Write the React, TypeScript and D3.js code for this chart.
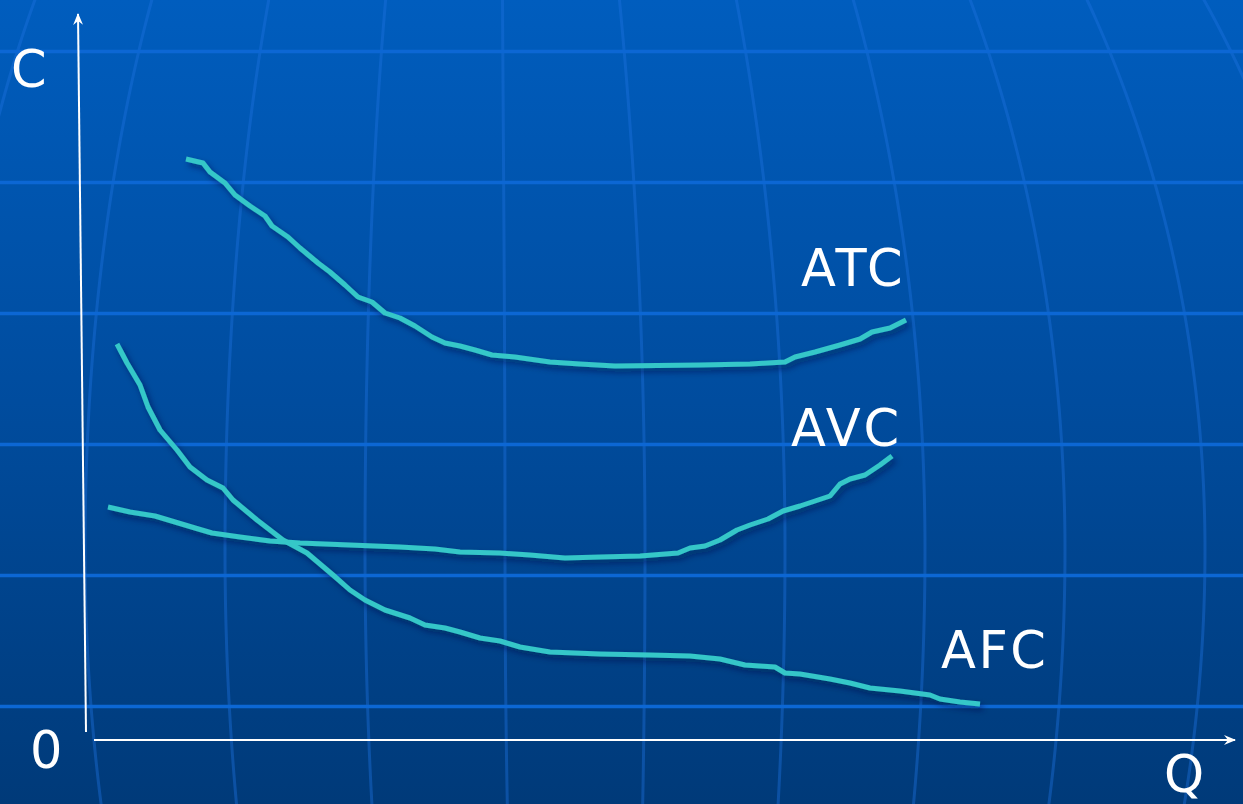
import React from "react";
import * as d3 from "d3";

const W = 1243;
const H = 804;

// Q (quantity) and C (cost) values
const atcQ = [9.6, 11.3, 12.0, 13.5, 14.5, 16.0, 17.5, 18.2, 19.8, 21.0, 22.8, 24.0, 25.5, 26.8, 28.2, 29.5, 31.0, 32.5, 34.2, 35.5, 37.0, 38.5, 40.2, 42.5, 46.0, 49.0, 52.5, 61.0, 66.0, 69.5, 70.5, 72.5, 75.0, 77.0, 78.2, 80.0, 81.6];
const atcC = [58.1, 57.7, 56.8, 55.7, 54.5, 53.4, 52.4, 51.4, 50.3, 49.2, 47.7, 46.8, 45.5, 44.3, 43.8, 42.7, 42.2, 41.4, 40.3, 39.7, 39.4, 39.0, 38.5, 38.3, 37.8, 37.6, 37.4, 37.5, 37.6, 37.8, 38.3, 38.8, 39.5, 40.1, 40.8, 41.2, 42.0];

const avcQ = [1.8, 4.0, 6.5, 8.5, 10.5, 12.2, 15.0, 18.0, 21.0, 26.0, 31.0, 34.5, 37.0, 41.0, 44.0, 47.5, 51.0, 55.0, 58.8, 60.0, 61.5, 63.0, 64.7, 66.0, 67.8, 69.3, 71.0, 72.5, 74.0, 75.0, 76.0, 77.5, 79.0, 80.2];
const avcC = [23.3, 22.8, 22.4, 21.8, 21.2, 20.7, 20.3, 19.9, 19.7, 19.5, 19.3, 19.1, 18.8, 18.7, 18.5, 18.2, 18.3, 18.4, 18.7, 19.2, 19.4, 20.0, 21.0, 21.5, 22.1, 22.9, 23.4, 23.9, 24.4, 25.6, 26.1, 26.5, 27.5, 28.4];

const afcQ = [2.7, 3.7, 5.0, 5.8, 7.0, 8.7, 10.0, 11.7, 13.3, 14.3, 16.7, 19.3, 21.7, 24.3, 26.0, 27.5, 29.5, 32.0, 33.5, 35.5, 37.0, 39.0, 41.0, 43.0, 46.0, 51.0, 56.0, 60.0, 63.0, 65.5, 68.5, 69.5, 71.0, 74.0, 76.0, 78.0, 81.0, 84.0, 85.0, 87.0, 89.0];
const afcC = [39.6, 37.7, 35.5, 33.3, 31.0, 29.0, 27.3, 26.0, 25.2, 24.0, 22.0, 20.0, 18.7, 16.5, 15.0, 14.0, 13.0, 12.2, 11.5, 11.2, 10.8, 10.2, 9.9, 9.3, 8.8, 8.6, 8.5, 8.4, 8.1, 7.5, 7.3, 6.7, 6.6, 6.1, 5.7, 5.2, 4.9, 4.5, 4.1, 3.8, 3.6];

const curveNames = ["ATC", "AVC", "AFC"];

const x = d3.scaleLinear().domain([0, 100]).range([90, 1090]);
const y = d3.scaleLinear().domain([0, 70]).range([740, 40]);

const line = d3
  .line<[number, number]>()
  .x((d) => x(d[0]))
  .y((d) => y(d[1]))
  .curve(d3.curveLinear);

const zip = (a: number[], b: number[]) => a.map((v, i) => [v, b[i]] as [number, number]);

// decorative globe background
const hLines = d3.range(6).map((i) => 51.5 + i * 131);
const meridianOffsets = [-630, -490, -350, -210, -70, 70, 210, 350, 490, 630, 770];
const wAt = (yy: number) => Math.sqrt(Math.max(0, 1 - ((yy - 550) / 1000) ** 2));
const cxAt = (yy: number) => (yy < 550 ? 575 - 14 * ((550 - yy) / 550) ** 2 : 575);
const meridianPath = (off: number) => {
  const pts = d3.range(-10, H + 11, 10).map((yy) => [cxAt(yy) + off * wAt(yy), yy] as [number, number]);
  return d3.line().curve(d3.curveBasis)(pts) || "";
};

export default function App() {
  const font = "'DejaVu Sans', Verdana, sans-serif";
  const series = [zip(atcQ, atcC), zip(avcQ, avcC), zip(afcQ, afcC)];
  return (
    <div style={{ position: "fixed", left: 0, top: 0, width: W, height: H }}>
      <svg width={W} height={H} viewBox={`0 0 ${W} ${H}`} style={{ display: "block" }}>
        <defs>
          <linearGradient id="bg" x1="0" y1="0" x2="0" y2="1">
            <stop offset="0" stopColor="#005dbe" />
            <stop offset="0.5" stopColor="#004c9e" />
            <stop offset="1" stopColor="#003a79" />
          </linearGradient>
          <filter id="shadow" x="-10%" y="-10%" width="120%" height="130%">
            <feDropShadow dx="3" dy="4" stdDeviation="3" floodColor="#00183f" floodOpacity="0.55" />
          </filter>
          <marker id="arrow" viewBox="0 0 12 10" refX="11" refY="5" markerWidth="12" markerHeight="10" markerUnits="userSpaceOnUse" orient="auto">
            <path d="M0,0 L12,5 L0,10 L4,5 Z" fill="#ffffff" />
          </marker>
        </defs>
        <rect x={0} y={0} width={W} height={H} fill="url(#bg)" />
        {meridianOffsets.map((o, i) => (
          <path key={i} d={meridianPath(o)} fill="none" stroke="#1f73e0" strokeOpacity={0.4} strokeWidth={3} />
        ))}
        {hLines.map((yy, i) => (
          <line key={i} x1={0} x2={W} y1={yy} y2={yy} stroke="#0c67d4" strokeWidth={3.5} />
        ))}

        {/* axes */}
        <line x1={86} y1={732} x2={78} y2={14} stroke="#ffffff" strokeWidth={2} markerEnd="url(#arrow)" />
        <line x1={94} y1={740} x2={1235} y2={740} stroke="#ffffff" strokeWidth={2} markerEnd="url(#arrow)" />

        {/* curves */}
        <g filter="url(#shadow)">
          {series.map((s, i) => (
            <path key={curveNames[i]} d={line(s) || ""} fill="none" stroke="#35c7c8" strokeWidth={5} strokeLinejoin="round" strokeLinecap="butt" />
          ))}
        </g>

        {/* labels */}
        <g fill="#ffffff" fontFamily={font} fontSize={51}>
          <text x={11} y={87}>C</text>
          <text x={30} y={768}>0</text>
          <text x={1164} y={792}>Q</text>
          <text x={801} y={286} letterSpacing={3.5}>{curveNames[0]}</text>
          <text x={791} y={446} letterSpacing={3}>{curveNames[1]}</text>
          <text x={941} y={668} letterSpacing={2.5}>{curveNames[2]}</text>
        </g>
      </svg>
    </div>
  );
}
